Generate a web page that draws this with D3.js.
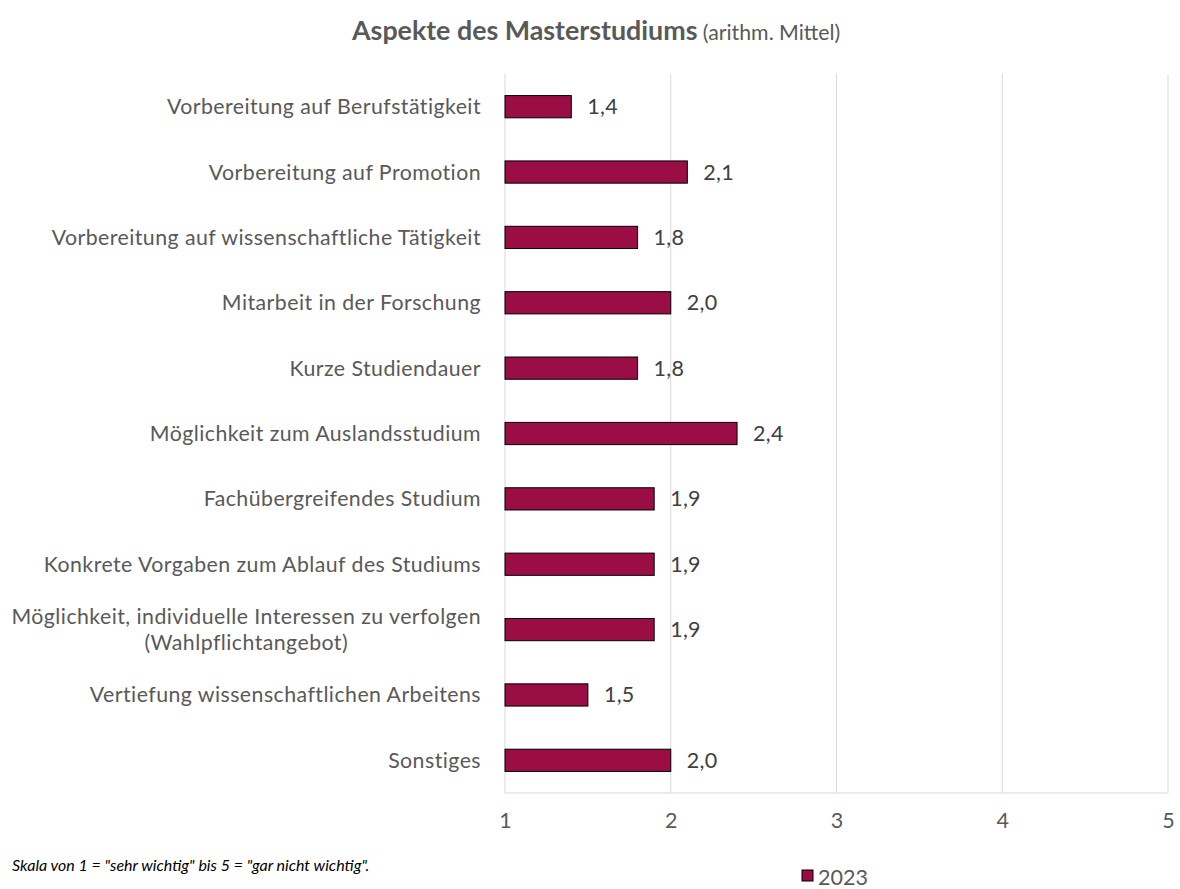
<!DOCTYPE html>
<html>
<head>
<meta charset="utf-8">
<script src="https://cdn.jsdelivr.net/npm/d3@7"></script>
<style>
  body { margin: 0; background: #fff; }
  svg { font-family: Lato, "Open Sans", sans-serif; }
</style>
</head>
<body>
<div id="chart"></div>
<script>
// categories (top to bottom) and mean values for 2023
var categories = [
  ["Vorbereitung auf Berufstätigkeit"],
  ["Vorbereitung auf Promotion"],
  ["Vorbereitung auf wissenschaftliche Tätigkeit"],
  ["Mitarbeit in der Forschung"],
  ["Kurze Studiendauer"],
  ["Möglichkeit zum Auslandsstudium"],
  ["Fachübergreifendes Studium"],
  ["Konkrete Vorgaben zum Ablauf des Studiums"],
  ["Möglichkeit, individuelle Interessen zu verfolgen", "(Wahlpflichtangebot)"],
  ["Vertiefung wissenschaftlichen Arbeitens"],
  ["Sonstiges"]
];
var values2023 = [1.4, 2.1, 1.8, 2.0, 1.8, 2.4, 1.9, 1.9, 1.9, 1.5, 2.0];
var xTicks = [1, 2, 3, 4, 5];
var seriesName = "2023";

var W = 1180, H = 889;
var margin = {top: 74, right: 12, bottom: 96, left: 505};
var width = W - margin.left - margin.right,
    height = H - margin.top - margin.bottom;

var svg = d3.select("#chart").append("svg")
    .attr("width", W)
    .attr("height", H);

// title
var title = svg.append("text")
    .attr("x", 352)
    .attr("y", 40)
    .style("fill", "#595959");
title.append("tspan")
    .style("font-size", "26.8px")
    .style("font-weight", "bold")
    .text("Aspekte des Masterstudiums");
title.append("tspan")
    .style("font-size", "21.3px")
    .text(" (arithm. Mittel)");

var g = svg.append("g")
    .attr("transform", "translate(" + margin.left + "," + margin.top + ")");

var x = d3.scaleLinear()
    .domain([1, 5])
    .range([0, width]);

var idx = d3.range(categories.length);
var y = d3.scaleBand()
    .domain(idx)
    .range([0, height])
    .paddingInner(0.66)
    .paddingOuter(0.33);

// grid lines
g.selectAll(".grid")
    .data(xTicks)
  .enter().append("line")
    .attr("class", "grid")
    .attr("x1", function(d) { return x(d); })
    .attr("x2", function(d) { return x(d); })
    .attr("y1", 0)
    .attr("y2", height)
    .style("stroke", "#d9d9d9")
    .style("stroke-width", 1);

// bottom axis line
g.append("line")
    .attr("x1", 0).attr("x2", width)
    .attr("y1", height).attr("y2", height)
    .style("stroke", "#d9d9d9");

// tick labels
var xAxis = g.append("g")
    .attr("transform", "translate(0," + height + ")")
    .call(d3.axisBottom(x).tickValues(xTicks).tickSize(0).tickPadding(20).tickFormat(d3.format("d")));
xAxis.select(".domain").remove();
xAxis.selectAll("text")
    .style("font-size", "21.5px")
    .style("font-family", "Lato, sans-serif")
    .style("fill", "#595959");

// bars
g.selectAll(".bar")
    .data(values2023)
  .enter().append("rect")
    .attr("class", "bar")
    .attr("x", x(1))
    .attr("y", function(d, i) { return y(i); })
    .attr("width", function(d) { return x(d) - x(1); })
    .attr("height", y.bandwidth())
    .style("fill", "#9b0d45")
    .style("stroke", "#000")
    .style("stroke-width", 1);

// value labels
var fmt = function(v) { return d3.format(".1f")(v).replace(".", ","); };
g.selectAll(".val")
    .data(values2023)
  .enter().append("text")
    .attr("class", "val")
    .attr("x", function(d) { return x(d) + 16; })
    .attr("y", function(d, i) { return y(i) + y.bandwidth() / 2; })
    .attr("dy", "0.35em")
    .style("font-size", "21.5px")
    .style("letter-spacing", "0.3px")
    .style("fill", "#404040")
    .text(fmt);

// category labels (right aligned, multi-line centred within block)
var labelRight = -24;
categories.forEach(function(lines, i) {
  var cy = y(i) + y.bandwidth() / 2;
  var lh = 26;
  var t = g.append("text")
      .style("font-size", "21.3px")
      .style("letter-spacing", "0.45px")
      .style("fill", "#595959");
  var spans = lines.map(function(s, k) {
    return t.append("tspan")
      .attr("y", cy + (k - (lines.length - 1) / 2) * lh)
      .attr("dy", "0.35em")
      .text(s);
  });
  var maxW = d3.max(spans, function(s) { return s.node().getComputedTextLength(); });
  t.attr("text-anchor", "middle");
  spans.forEach(function(s) { s.attr("x", labelRight - maxW / 2); });
});

// footnote
svg.append("text")
    .attr("x", 12)
    .attr("y", 871)
    .style("font-size", "16px")
    .style("font-style", "italic")
    .style("fill", "#000")
    .text('Skala von 1 = "sehr wichtig" bis 5 = "gar nicht wichtig".');

// legend
var leg = svg.append("g").attr("transform", "translate(802,870)");
leg.append("rect")
    .attr("width", 11).attr("height", 11)
    .style("fill", "#9b0d45")
    .style("stroke", "#000");
leg.append("text")
    .attr("x", 16)
    .attr("y", 7)
    .attr("dy", "0.35em")
    .style("font-size", "21.5px")
    .style("fill", "#595959")
    .text(seriesName);
</script>
</body>
</html>
